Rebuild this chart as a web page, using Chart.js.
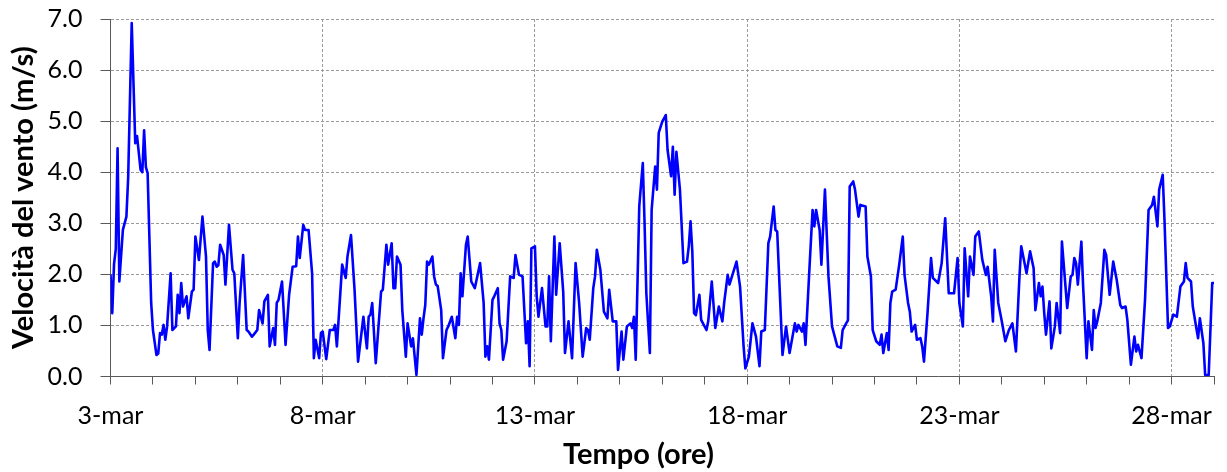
<!DOCTYPE html>
<html lang="it">
<head>
<meta charset="utf-8">
<title>Velocità del vento</title>
<script src="https://cdn.jsdelivr.net/npm/chart.js@4.4.1/dist/chart.umd.min.js"></script>
<style>
  html, body { margin: 0; padding: 0; background: #fff; }
  canvas { display: block; }
</style>
</head>
<body>
<canvas id="grafico_vento" width="1227" height="472"></canvas>
<script>
let ctx = document.getElementById('grafico_vento')

// ore dal 3 marzo 00:00 e velocità (m/s)
const ore = [
  0, 1, 2, 3, 4, 5, 7, 9, 10, 12, 14, 15, 17, 18, 19, 20, 21, 23, 24, 26, 27, 28, 29, 30, 31, 32, 34, 35, 37, 38, 39, 40, 41, 43, 44, 46, 47, 48, 50, 52, 54, 55, 56, 58, 59, 60, 61, 62, 64, 65, 67, 69, 70, 72, 73, 75, 77, 78, 80, 81, 83, 84, 86, 87, 89, 90, 92, 93, 94, 95, 97, 99, 101,
  103, 105, 106, 107, 109, 110, 112, 114, 115, 116, 118, 119, 120, 122, 124, 126, 127, 128, 131, 133, 134, 136, 138, 140, 143, 145, 146, 147, 148, 150, 153, 154, 156, 157, 159, 160, 161, 162, 164, 165, 167, 168, 170, 171, 173, 175, 176, 177, 178, 179, 180, 182, 183, 184, 185, 187, 188, 190, 191, 193, 195, 196, 197, 198, 199, 201, 202, 204, 206, 209,
  211, 212, 213, 214, 216, 217, 219, 220, 221, 222, 224, 226, 228, 229, 231, 233, 235, 236, 237, 238, 240, 241, 242, 244, 246, 247, 248, 249, 251, 252, 254, 256, 257, 259, 261, 263, 265, 267, 269, 270, 271, 273, 274, 275, 277, 279, 281, 282, 284, 286, 287, 289, 290, 292, 294, 295, 296, 297, 299, 301, 302, 303, 305, 306, 308, 309, 310, 312, 314, 315, 317, 318, 319, 320,
  322, 324, 326, 327, 328, 329, 330, 331, 333, 334, 337, 338, 340, 342, 344, 346, 347, 349, 350, 354, 356, 358, 359, 361, 363, 365, 367, 368, 370, 372, 373, 375, 376, 377, 380, 382, 384, 387, 388, 389, 391, 392, 393, 395, 397, 398, 399, 401, 402, 404, 406, 408, 411, 413, 414, 416, 417, 418, 420, 421, 423, 424,
  427, 428, 430, 431, 433, 435, 436, 437, 439, 440, 441, 442, 444, 446, 448, 449, 451, 452, 453, 455, 456, 458, 459, 460, 462, 464, 465, 468, 470, 472, 474, 476, 477, 479, 480, 482, 483, 485, 486, 488, 489, 491, 493, 495, 496, 498, 499, 500, 502, 504, 506, 508, 510, 512, 514, 515, 518, 520,
  522, 523, 525, 526, 527, 528, 529, 531, 532, 534, 535, 537, 538, 541, 543, 544, 545, 546, 547, 549, 550, 552, 553, 555, 556, 557, 558, 560, 562, 563, 565, 567, 569, 571, 572, 574, 575, 577, 579, 580, 581, 583, 585, 587, 589, 590, 592, 593, 595, 596, 598, 599, 601, 603, 605, 607, 608, 609, 611, 612, 614, 615, 616, 618, 619, 621, 623, 624
]

const velocita = [
  2.0, 1.24, 2.2, 2.5, 4.47, 1.86, 2.87, 3.13, 3.9, 6.92, 4.57, 4.71, 4.05, 4.0, 4.82, 4.1, 3.98, 1.44, 0.91, 0.42, 0.45, 0.85, 0.82, 1.01, 0.72, 0.98, 2.02, 0.91, 0.98, 1.6, 1.24, 1.83, 1.37, 1.57, 1.14, 1.66, 1.7, 2.74, 2.28, 3.13, 2.35, 0.91, 0.52, 2.22, 2.25, 2.15, 2.18, 2.58, 2.38, 1.8, 2.97, 2.09, 2.02, 0.75, 1.44, 2.38, 0.91, 0.88, 0.78, 0.82, 0.91, 1.3, 1.04, 1.47, 1.6, 0.59, 0.95, 0.62, 1.44, 1.5, 1.86, 0.62, 1.6,
  2.15, 2.16, 2.74, 2.32, 2.97, 2.87, 2.87, 2.02, 0.36, 0.72, 0.36, 0.85, 0.88, 0.34, 0.91, 0.91, 1.01, 0.59, 2.19, 1.93, 2.35, 2.77, 1.7, 0.29, 1.17, 0.55, 1.17, 1.21, 1.44, 0.26, 1.66, 1.7, 2.58, 2.19, 2.61, 1.73, 1.73, 2.35, 2.19, 1.3, 0.39, 1.04, 0.59, 0.75, 0.03, 1.14, 0.82, 1.14, 1.4, 2.25, 2.19, 2.35, 1.96, 1.8, 1.77, 1.3, 0.36, 0.91, 0.98, 1.17, 0.75, 1.17, 1.01, 2.02, 1.57, 2.58, 2.74, 1.86, 1.73, 2.22,
  1.44, 0.39, 0.59, 0.33, 1.5, 1.57, 1.73, 1.04, 0.91, 0.33, 0.69, 1.96, 1.93, 2.38, 1.99, 1.96, 0.65, 1.08, 0.2, 2.51, 2.55, 1.57, 1.17, 1.73, 0.98, 0.98, 1.96, 0.69, 2.74, 1.6, 2.61, 1.66, 0.46, 1.08, 0.36, 2.22, 1.44, 0.39, 0.95, 0.91, 0.72, 1.73, 1.96, 2.48, 2.09, 1.27, 1.14, 1.7, 1.08, 1.08, 0.13, 0.88, 0.33, 0.98, 1.04, 0.95, 1.17, 0.33, 3.33, 4.18, 3.0, 1.63, 0.46, 3.26, 4.11, 3.66, 4.77, 4.99, 5.12, 4.44, 3.92, 4.5, 3.56, 4.4,
  3.66, 2.22, 2.25, 2.55, 3.04, 2.45, 1.24, 1.2, 1.6, 1.11, 0.91, 1.08, 1.86, 0.95, 1.37, 1.08, 1.44, 1.99, 1.8, 2.25, 1.76, 0.59, 0.16, 0.39, 1.04, 0.78, 0.2, 0.88, 0.91, 2.61, 2.74, 3.33, 2.87, 2.84, 0.42, 0.98, 0.46, 1.04, 0.88, 1.01, 0.88, 1.04, 0.62, 1.96, 3.26, 2.94, 3.26, 2.87, 2.19, 3.66, 1.96, 0.98, 0.59, 0.56, 0.91, 1.04, 1.1, 3.72, 3.82, 3.66, 3.13, 3.36,
  3.33, 2.35, 1.96, 0.91, 0.69, 0.62, 0.82, 0.46, 0.85, 0.52, 1.44, 1.66, 1.7, 2.19, 2.74, 1.99, 1.44, 1.27, 0.88, 1.01, 0.72, 0.75, 0.59, 0.29, 1.24, 2.32, 1.93, 1.83, 2.22, 3.1, 1.63, 1.63, 1.63, 2.32, 1.44, 0.98, 2.51, 1.57, 2.35, 1.99, 2.74, 2.84, 2.28, 1.99, 2.15, 1.57, 1.08, 2.48, 1.44, 1.08, 0.69, 0.91, 1.04, 0.49, 1.96, 2.55, 2.02, 2.45,
  2.12, 1.3, 1.83, 1.57, 1.76, 1.24, 0.82, 1.47, 0.55, 0.98, 1.44, 0.85, 2.64, 1.34, 1.96, 1.99, 2.32, 2.22, 1.8, 2.64, 1.76, 0.36, 1.08, 0.52, 1.3, 0.95, 1.08, 1.44, 2.48, 2.38, 1.6, 2.25, 1.89, 1.4, 1.34, 1.37, 1.11, 0.23, 0.78, 0.49, 0.62, 0.36, 1.5, 3.26, 3.36, 3.52, 2.94, 3.66, 3.95, 3.07, 0.95, 0.98, 1.21, 1.17, 1.76, 1.86, 2.22, 1.93, 1.86, 1.37, 0.95, 0.75, 1.14, 0.65, 0.03, 0.03, 1.83, 1.83
]

// etichette dell'asse x, una ogni 5 giorni (120 ore)
const etichetteGiorni = ['3-mar', '8-mar', '13-mar', '18-mar', '23-mar', '28-mar']

const titoloX = 'Tempo (ore)'
const titoloY = 'Velocità del vento (m/s)'

Chart.defaults.font.family = 'Lato'
Chart.defaults.color = '#000'

const coloreAssi = '#5a5a5a'
const coloreGriglia = '#9a9a9a'

// titoli degli assi disegnati a mano (quello x non è centrato sull'area)
const titoliAssi = {
  id: 'titoliAssi',
  afterDraw(chart) {
    const c = chart.ctx
    const area = chart.chartArea
    c.save()
    c.fillStyle = '#000'
    c.font = 'bold 29px Lato'
    c.textAlign = 'center'
    c.textBaseline = 'alphabetic'
    c.fillText(titoloX, 638.5, 464)
    c.translate(33, (area.top + area.bottom) / 2)
    c.rotate(-Math.PI / 2)
    c.fillText(titoloY, 0, 0)
    c.restore()
  }
}

const data = {
  datasets: [{
    data: ore.map((h, i) => ({ x: h, y: velocita[i] })),
    borderColor: '#0000ff',
    borderWidth: 2.6,
    borderJoinStyle: 'round',
    pointRadius: 0,
    tension: 0,
    fill: false
  }]
}

const config = {
  type: 'line',
  data,
  plugins: [titoliAssi],
  options: {
    responsive: false,
    animation: false,
    layout: { padding: { top: 19, right: 13, left: 0, bottom: 0 } },
    plugins: {
      legend: { display: false },
      tooltip: { enabled: false }
    },
    scales: {
      x: {
        type: 'linear',
        min: 0,
        max: 624,
        afterFit: (scale) => {
          scale.height = 95.5
          scale.paddingLeft = 0
          scale.paddingRight = 0
        },
        ticks: {
          stepSize: 24,
          autoSkip: false,
          maxRotation: 0,
          padding: 16,
          font: { size: 25 },
          callback: (v) => (v % 120 === 0 ? etichetteGiorni[v / 120] : '')
        },
        grid: {
          color: (c) => (c.tick && c.tick.value % 120 === 0 && c.tick.value > 0 ? coloreGriglia : 'transparent'),
          tickColor: coloreAssi,
          tickLength: 8,
          lineWidth: 1
        },
        border: { color: coloreAssi, width: 1, dash: [3, 2] }
      },
      y: {
        min: 0,
        max: 7,
        afterFit: (scale) => {
          scale.width = 110.5
          scale.paddingTop = 0
          scale.paddingBottom = 0
        },
        ticks: {
          stepSize: 1,
          padding: 18,
          font: { size: 25 },
          callback: (v) => v.toFixed(1)
        },
        grid: {
          color: (c) => (c.tick && c.tick.value > 0 ? coloreGriglia : 'transparent'),
          tickColor: coloreAssi,
          tickLength: 10,
          lineWidth: 1
        },
        border: { color: coloreAssi, width: 1, dash: [3, 2] }
      }
    }
  }
}

const graph = new Chart(ctx, config)
</script>
</body>
</html>
